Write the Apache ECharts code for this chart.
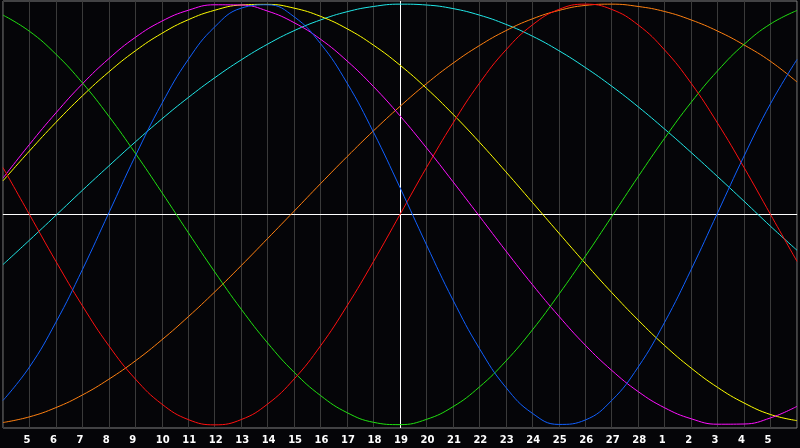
<!DOCTYPE html>
<html>
<head>
<meta charset="utf-8">
<script src="https://cdn.jsdelivr.net/npm/echarts@6/dist/echarts.min.js"></script>
<style>
html,body{margin:0;padding:0;background:#050508;}
#chart{width:800px;height:448px;}
</style>
</head>
<body>
<div id="chart"></div>
<script>
const days = ['4','5','6','7','8','9','10','11','12','13','14','15','16','17','18','19','20','21','22','23','24','25','26','27','28','1','2','3','4','5','6'];

const physical = [-0.884,-0.725,-0.512,-0.262,0.008,0.278,0.527,0.737,0.892,0.981,0.997,0.940,0.812,0.625,0.391,0.128,-0.144,-0.406,-0.637,-0.822,-0.945,-0.998,-0.977,-0.884,-0.725,-0.512,-0.262,0.008,0.278,0.527,0.737];
const emotional = [0.223,0,-0.223,-0.434,-0.624,-0.782,-0.901,-0.975,-1,-0.975,-0.901,-0.782,-0.624,-0.434,-0.223,0,0.223,0.434,0.624,0.782,0.901,0.975,1,0.975,0.901,0.782,0.624,0.434,0.223,0,-0.223];
const intellectual = [0.948,0.871,0.762,0.626,0.467,0.291,0.105,-0.086,-0.273,-0.450,-0.611,-0.750,-0.861,-0.942,-0.988,-0.999,-0.974,-0.914,-0.820,-0.697,-0.549,-0.380,-0.199,-0.010,0.180,0.363,0.533,0.683,0.809,0.906,0.970];
const intuitive = [0.173,0.333,0.483,0.621,0.741,0.842,0.919,0.971,0.997,0.996,0.967,0.912,0.833,0.730,0.608,0.469,0.317,0.156,-0.008,-0.173,-0.333,-0.483,-0.621,-0.741,-0.842,-0.919,-0.971,-0.997,-0.996,-0.967,-0.912];
const aesthetic = [0.160,0.302,0.438,0.564,0.678,0.778,0.861,0.926,0.971,0.996,0.999,0.981,0.942,0.883,0.805,0.710,0.600,0.477,0.344,0.203,0.058,-0.088,-0.232,-0.371,-0.502,-0.623,-0.730,-0.822,-0.896,-0.951,-0.980];
const awareness = [-0.989,-0.962,-0.918,-0.858,-0.783,-0.696,-0.596,-0.486,-0.368,-0.243,-0.114,0.016,0.147,0.275,0.398,0.514,0.622,0.719,0.803,0.874,0.930,0.970,0.994,1.000,0.989,0.965,0.925,0.872,0.806,0.728,0.630];
const spiritual = [-0.238,-0.122,-0.004,0.115,0.231,0.345,0.454,0.556,0.650,0.735,0.810,0.874,0.925,0.964,0.989,1.000,0.996,0.979,0.948,0.904,0.848,0.779,0.699,0.610,0.512,0.406,0.295,0.180,0.063,-0.056,-0.170];

const seriesDefs = [
  {name:'Spiritual', data:spiritual, color:'#20e8e8'},
  {name:'Awareness', data:awareness, color:'#ff8010'},
  {name:'Aesthetic', data:aesthetic, color:'#ffff00'},
  {name:'Intuitive', data:intuitive, color:'#ff10ff'},
  {name:'Intellectual', data:intellectual, color:'#20e010'},
  {name:'Emotional', data:emotional, color:'#ff1010'},
  {name:'Physical', data:physical, color:'#1060ff'}
];

const chart = echarts.init(document.getElementById('chart'), null, {renderer:'canvas'});
const series = seriesDefs.map((s, k) => ({
  name: s.name,
  type: 'line',
  data: s.data,
  smooth: 0.45,
  symbol: 'none',
  lineStyle: {color: s.color, width: 1},
  itemStyle: {color: s.color},
  z: 3,
  markLine: k === 0 ? {
    silent: true,
    symbol: 'none',
    label: {show: false},
    lineStyle: {color: '#ffffff', width: 1, type: 'solid'},
    data: [{xAxis: 15}, {yAxis: 0}],
    z: 2
  } : undefined
}));

chart.setOption({
  animation: false,
  backgroundColor: '#050508',
  grid: {left: 1, right: 1, top: 1, bottom: 20, show: true, borderColor: '#808080', borderWidth: 1},
  xAxis: {
    type: 'category',
    data: days,
    boundaryGap: false,
    axisLine: {show: true, lineStyle: {color: '#808080'}},
    axisTick: {show: false},
    splitLine: {show: true, lineStyle: {color: '#3a3a3a', width: 1}},
    axisLabel: {
      interval: 0,
      color: '#ffffff',
      fontWeight: 'bold',
      fontSize: 10,
      fontFamily: 'DejaVu Sans, sans-serif',
      margin: 7,
      align: 'left',
      padding: [0, 0, 0, -6],
      formatter: (v, i) => (i === 0 || i === days.length - 1) ? '' : v
    }
  },
  yAxis: {
    type: 'value',
    min: -1.015,
    max: 1.015,
    axisLabel: {show: false},
    axisTick: {show: false},
    axisLine: {show: false},
    splitLine: {show: false}
  },
  series: series
});
</script>
</body>
</html>
